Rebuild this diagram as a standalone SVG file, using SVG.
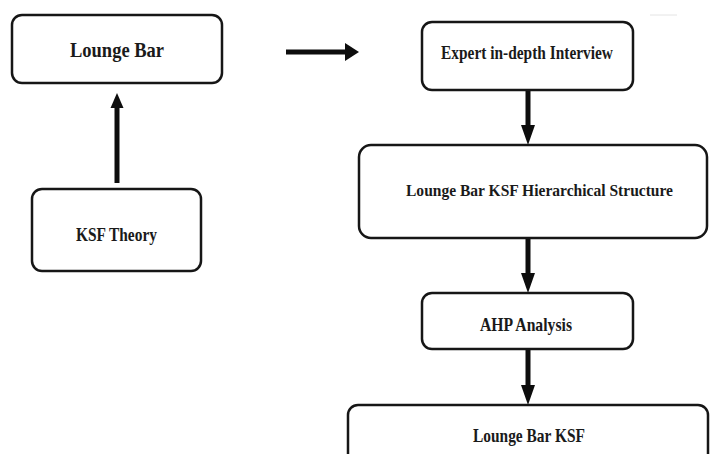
<svg xmlns="http://www.w3.org/2000/svg" width="710" height="454" viewBox="0 0 710 454">
<style>
.box{fill:#fff;stroke:#161616;stroke-width:2.5}
.t{font-family:"Liberation Serif","Times New Roman",serif;font-weight:bold;fill:#1a1a1a;text-anchor:middle}
.shaft{stroke:#0d0d0d;stroke-width:5}
.head{fill:#0d0d0d}
</style>
<rect width="710" height="454" fill="#fff"/>
<g id="connectors">
<line class="shaft" x1="286" y1="52" x2="347" y2="52"/>
<polygon class="head" points="345,43 359,52 345,61"/>
<line class="shaft" x1="117" y1="183" x2="117" y2="106"/>
<polygon class="head" points="110.5,108 117,93 123.5,108"/>
<line class="shaft" x1="528" y1="90" x2="528" y2="127"/>
<polygon class="head" points="521,125 528,145 535,125"/>
<line class="shaft" x1="528" y1="238" x2="528" y2="275"/>
<polygon class="head" points="521,273 528,293 535,273"/>
<line class="shaft" x1="528" y1="349" x2="528" y2="387"/>
<polygon class="head" points="521,385 528,405 535,385"/>
</g>
<g id="lounge-bar">
<rect class="box" x="12" y="15" width="210" height="68" rx="10"/>
<text class="t" x="117" y="57" font-size="21" textLength="94" lengthAdjust="spacingAndGlyphs">Lounge Bar</text>
</g>
<g id="ksf-theory">
<rect class="box" x="32" y="189" width="169" height="82" rx="10"/>
<text class="t" x="116.5" y="241" font-size="19" textLength="81" lengthAdjust="spacingAndGlyphs">KSF Theory</text>
</g>
<g id="expert-interview">
<rect class="box" x="422" y="22" width="211" height="68" rx="10"/>
<text class="t" x="527" y="59" font-size="19" textLength="172" lengthAdjust="spacingAndGlyphs">Expert in-depth Interview</text>
</g>
<g id="hierarchical-structure">
<rect class="box" x="359" y="145" width="348" height="93" rx="12"/>
<text class="t" x="539.5" y="196" font-size="17.5" textLength="267" lengthAdjust="spacingAndGlyphs">Lounge Bar KSF Hierarchical Structure</text>
</g>
<g id="ahp-analysis">
<rect class="box" x="422" y="293" width="211" height="56" rx="10"/>
<text class="t" x="526" y="331" font-size="19" textLength="92" lengthAdjust="spacingAndGlyphs">AHP Analysis</text>
</g>
<g id="lounge-bar-ksf">
<rect class="box" x="348" y="405" width="360" height="70" rx="10"/>
<text class="t" x="529" y="442" font-size="19" textLength="112" lengthAdjust="spacingAndGlyphs">Lounge Bar KSF</text>
</g>
<line x1="650" y1="15" x2="677" y2="15" stroke="#e4e4e4" stroke-width="1"/>
</svg>
